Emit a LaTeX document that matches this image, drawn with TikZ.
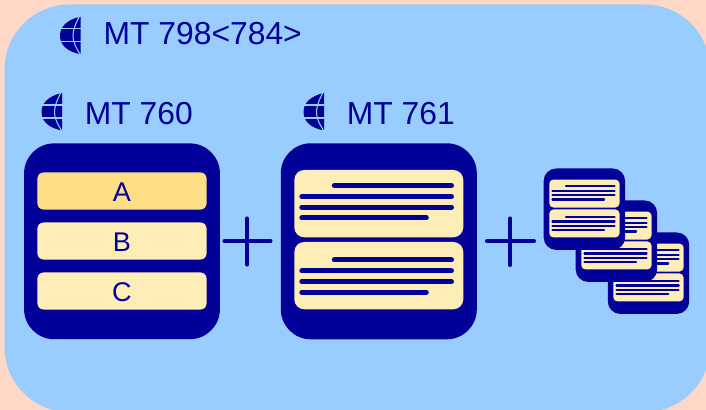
\documentclass[tikz,border=0pt]{standalone}
\usepackage{fontspec}
\setmainfont{Liberation Sans}
\definecolor{navy}{RGB}{0,0,153}
\definecolor{skyblue}{RGB}{153,204,255}
\definecolor{peach}{RGB}{255,216,200}
\definecolor{cream}{RGB}{255,237,184}
\definecolor{gold}{RGB}{255,223,133}
\tikzset{
    mtlabel/.style={anchor=base west, inner sep=0pt, text=navy, font=\fontsize{9.05}{11}\selectfont},
    panel/.style={fill=navy, minimum width=1.957cm, minimum height=1.957cm, inner sep=0pt, rounded corners=0.3cm},
    fieldcard/.style={fill=cream, text=navy, minimum width=1.69cm, minimum height=0.37cm, inner sep=0pt, rounded corners=0.06cm, text height=6.1pt, text depth=0pt, font=\fontsize{7.7}{9}\selectfont},
    plusmark/.style={draw=navy, line width=1.15pt, line cap=round}
}
% half globe, x and y of its top left corner
\newcommand{\globeicon}[2]{
    \begin{scope}[shift={(#1,#2)}]
        \fill[navy] (20.5,0) .. controls (7,3) and (0,10) .. (0,19) .. controls (0,28) and (7,35) .. (20.5,37.5) -- cycle;
        \draw[skyblue, line width=0.3pt] (19.5,-0.5) .. controls (15,8) and (13,14) .. (13,19) .. controls (13,24) and (15,30) .. (20.5,38);
        \draw[skyblue, line width=0.35pt] (-1,12) -- (21,12);
        \draw[skyblue, line width=0.35pt] (-1,25) -- (21,25);
    \end{scope}
}
% panel with two text cards, x and y of its centre and its scale
\newcommand{\msgpanel}[3]{
    \pgfmathsetlengthmacro{\rpanel}{0.3cm*#3}
    \pgfmathsetlengthmacro{\rcard}{0.1cm*#3}
    \pgfmathsetlengthmacro{\lwline}{0.05cm*#3}
    \begin{scope}[shift={(#1,#2)}, scale=#3]
        \fill[navy, rounded corners=\rpanel] (-98,-98) rectangle (98,98);
        \fill[cream, rounded corners=\rcard] (-84.5,-71.3) rectangle (84.5,-4);
        \fill[cream, rounded corners=\rcard] (-84.5,0.7) rectangle (84.5,68);
        \foreach \dy in {0,74.3} {
            \draw[navy, line width=\lwline, line cap=round] (-44.5,-55.6+\dy) -- (72.7,-55.6+\dy);
            \draw[navy, line width=\lwline, line cap=round] (-77,-44.6+\dy) -- (72.7,-44.6+\dy);
            \draw[navy, line width=\lwline, line cap=round] (-77,-34+\dy) -- (72.7,-34+\dy);
            \draw[navy, line width=\lwline, line cap=round] (-77,-23.3+\dy) -- (47.5,-23.3+\dy);
        }
    \end{scope}
}
\begin{document}
\begin{tikzpicture}[x=0.01cm, y=-0.01cm]
    \useasboundingbox (0,0) rectangle (706,410);
    \clip (0,0) rectangle (706,410);
    \fill[peach] (0,0) rectangle (706,410);
    \fill[skyblue, rounded corners=0.65cm] (4.5,4.5) rectangle (710,412);

    \globeicon{60}{16.7}
    \node[mtlabel] (mtTop) at (103,45) {MT 798<784>};
    \globeicon{41.5}{93}
    \node[mtlabel] (mtLeft) at (84.2,125) {MT 760};
    \globeicon{303.5}{93}
    \node[mtlabel] (mtMid) at (346.2,125) {MT 761};

    \node[panel] (panelABC) at (122,241.3) {};
    \node[fieldcard, fill=gold] (cardA) at (122,191) {A};
    \node[fieldcard] (cardB) at (122,241) {B};
    \node[fieldcard] (cardC) at (122,291) {C};

    \draw[plusmark] (224.5,241.3) -- (270.5,241.3);
    \draw[plusmark] (247.3,218.5) -- (247.3,264.5);

    \msgpanel{378.8}{241.3}{1}

    \draw[plusmark] (487,241.3) -- (534,241.3);
    \draw[plusmark] (510.3,218.5) -- (510.3,265);

    \msgpanel{648.5}{273.2}{0.4155}
    \msgpanel{616.4}{241.2}{0.4155}
    \msgpanel{584.4}{209.2}{0.4155}
\end{tikzpicture}
\end{document}
